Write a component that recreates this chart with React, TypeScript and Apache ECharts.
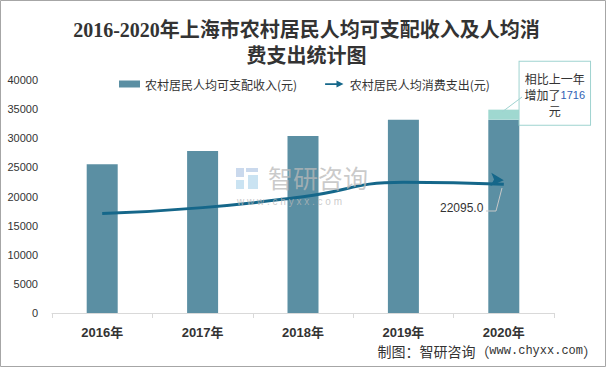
import React, { useEffect, useRef } from "react";
import * as echarts from "echarts";

const categories = ["2016年", "2017年", "2018年", "2019年", "2020年"];
const incomeBase = [25520, 27825, 30375, 33195, 33195];
const incomeIncrease: (number | string)[] = ["-", "-", "-", "-", 1716];
const consumption = [17071, 18090, 19965, 22449, 22095];
const yTicks = { min: 0, max: 40000, interval: 5000 };

const SANS = "'Noto Sans CJK SC', 'Liberation Sans', sans-serif";

export default function App() {
  const ref = useRef<HTMLDivElement>(null);
  useEffect(() => {
    if (!ref.current) return;
    const chart = echarts.init(ref.current, undefined, { renderer: "svg" });
    const last = consumption.length - 1;
    const wm = (el: any) => ({ ...el, z: 100, silent: true });
    chart.setOption({
      animation: false,
      backgroundColor: "#fff",
      title: {
        text: "2016-2020年上海市农村居民人均可支配收入及人均消\n费支出统计图",
        left: "center",
        top: 12,
        textStyle: {
          fontSize: 20,
          fontWeight: "bold",
          lineHeight: 26,
          color: "#333",
          fontFamily: "'Liberation Serif', 'Noto Sans CJK SC', serif",
        },
      },
      legend: {
        top: 73,
        left: 114,
        itemGap: 28,
        itemWidth: 21,
        itemHeight: 7,
        textStyle: { fontSize: 12, color: "#333", fontFamily: SANS },
        data: [
          { name: "农村居民人均可支配收入(元)", icon: "rect" },
          {
            name: "农村居民人均消费支出(元)",
            icon: "path://M0,3 L13,3 L13,0 L21,4 L13,8 L13,5 L0,5 Z",
          },
        ],
      },
      grid: { left: 52, right: 59, top: 80, bottom: 58 },
      xAxis: {
        type: "category",
        data: categories,
        axisLine: { lineStyle: { color: "#d9d9d9" } },
        axisTick: { show: true, length: 5, lineStyle: { color: "#d9d9d9" } },
        axisLabel: {
          fontSize: 13,
          fontWeight: "bold",
          color: "#333",
          margin: 13,
          fontFamily: "'Liberation Sans', 'Noto Sans CJK SC', sans-serif",
        },
      },
      yAxis: {
        type: "value",
        min: yTicks.min,
        max: yTicks.max,
        interval: yTicks.interval,
        splitLine: { show: false },
        axisLine: { show: false },
        axisTick: { show: false },
        axisLabel: {
          fontSize: 11,
          color: "#333",
          margin: 14,
          formatter: (v: number) => String(v),
          fontFamily: "'Liberation Sans', sans-serif",
        },
      },
      series: [
        {
          name: "农村居民人均可支配收入(元)",
          type: "bar",
          stack: "income",
          barWidth: 31,
          data: incomeBase,
          itemStyle: { color: "#5b8fa3" },
        },
        {
          name: "增加",
          type: "bar",
          stack: "income",
          barWidth: 31,
          data: incomeIncrease,
          itemStyle: { color: "#9fd8d0" },
          label: {
            show: true,
            position: "top",
            formatter: (p: any) => "相比上一年\n增加了{n|" + p.value + "}\n元",
            fontSize: 12,
            lineHeight: 16,
            color: "#333",
            fontFamily: SANS,
            backgroundColor: "#fff",
            borderColor: "#9fd3d0",
            borderWidth: 1,
            padding: [9, 5, 6, 5],
            align: "center",
            rich: { n: { fontSize: 11, color: "#2f5fb3", fontFamily: "'Liberation Sans', sans-serif" } },
          },
          labelLayout: { dx: 51, dy: 20 },
        },
        {
          name: "农村居民人均消费支出(元)",
          type: "line",
          smooth: true,
          data: consumption.map((v, i) =>
            i === last
              ? {
                  value: v,
                  symbol: "arrow",
                  symbolSize: [10, 13],
                  symbolRotate: -94,
                  symbolOffset: [0, -4],
                  label: {
                    show: true,
                    position: "left",
                    formatter: (p: any) => Number(p.value).toFixed(1),
                    fontSize: 12,
                    color: "#333",
                    fontFamily: "'Liberation Sans', sans-serif",
                  },
                }
              : { value: v, symbol: "none" }
          ),
          showSymbol: true,
          color: "#15678a",
          lineStyle: { color: "#15678a", width: 3 },
          itemStyle: { color: "#15678a" },
          labelLayout: { dx: -2, dy: 28 },
          z: 5,
        },
      ],
      graphic: [
        {
          type: "rect",
          shape: { x: 0.5, y: 0.5, width: 605, height: 366 },
          style: { fill: "none", stroke: "#a6a6a6", lineWidth: 1 },
          silent: true,
        },
        {
          type: "line",
          shape: { x1: 502, y1: 112, x2: 522, y2: 97 },
          style: { stroke: "#9fd3d0", lineWidth: 1 },
          silent: true,
          z: 50,
        },
        {
          type: "polyline",
          shape: { points: [[486, 211], [496, 211], [502, 188]] },
          style: { stroke: "#c8c8c8", lineWidth: 1, fill: "none" },
          silent: true,
          z: 50,
        },
        wm({ type: "rect", shape: { x: 236, y: 168, width: 8, height: 9 }, style: { fill: "rgba(150,180,220,0.5)" } }),
        wm({ type: "rect", shape: { x: 246, y: 168, width: 12, height: 4 }, style: { fill: "rgba(150,180,220,0.5)" } }),
        wm({ type: "rect", shape: { x: 236, y: 180, width: 8, height: 9 }, style: { fill: "rgba(150,200,230,0.5)" } }),
        wm({ type: "rect", shape: { x: 248, y: 175, width: 10, height: 14 }, style: { fill: "rgba(150,200,230,0.5)" } }),
        wm({
          type: "text",
          x: 268,
          y: 164,
          style: {
            text: "智研咨询",
            fontSize: 25,
            lineHeight: 25,
            fill: "rgba(185,185,185,0.75)",
            fontFamily: SANS,
          },
        }),
        wm({
          type: "text",
          x: 237,
          y: 196,
          style: {
            text: "w w w . c h y x x . c o m",
            fontSize: 10,
            lineHeight: 10,
            fill: "rgba(185,185,185,0.75)",
            fontFamily: "'Liberation Sans', sans-serif",
          },
        }),
        {
          type: "text",
          right: 16,
          top: 344,
          style: {
            text: "制图：智研咨询（{u|www.chyxx.com}）",
            fontSize: 14,
            fill: "#333",
            fontFamily: SANS,
            rich: {
              u: { fontSize: 12, fontFamily: "'Liberation Mono', monospace", fill: "#333" },
            },
          },
        },
      ],
    });
    return () => chart.dispose();
  }, []);
  return (
    <div
      ref={ref}
      style={{ position: "fixed", left: 0, top: 0, width: 613, height: 371 }}
    />
  );
}
